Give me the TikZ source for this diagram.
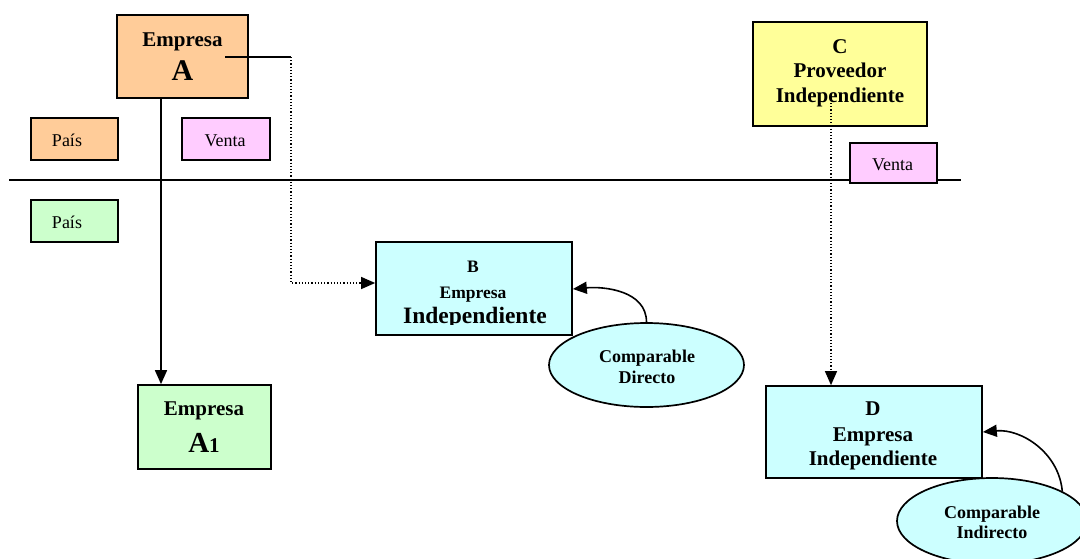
\documentclass[tikz,border=0pt]{standalone}
\usepackage{fontspec}
\setmainfont{Liberation Serif}
\usetikzlibrary{arrows.meta,shapes.geometric}
\definecolor{peach}{HTML}{FFCC99}
\definecolor{lgreen}{HTML}{CCFFCC}
\definecolor{lpink}{HTML}{FFCCFF}
\definecolor{lyellow}{HTML}{FFFF99}
\definecolor{lcyan}{HTML}{CCFFFF}
\tikzset{
  box/.style={draw=black, line width=1.7pt, inner sep=0pt, rectangle},
  oval/.style={draw=black, line width=1.7pt, ellipse, fill=lcyan, inner sep=0pt},
  big/.style={font=\fontsize{21}{24}\selectfont\bfseries, anchor=base, inner sep=0pt},
  small/.style={font=\fontsize{18}{20}\selectfont, anchor=base, inner sep=0pt},
  smallb/.style={font=\fontsize{18}{20}\selectfont\bfseries, anchor=base, inner sep=0pt},
  conn/.style={line width=1.6pt},
  dots/.style={line width=1.2pt, dash pattern=on 1.2pt off 2pt},
  tip/.style={-{Triangle[length=14pt,width=12pt]}}
}
\begin{document}
\begin{tikzpicture}[x=1pt,y=-1pt]
\clip (0,0) rectangle (1080,558);
\fill[white] (0,0) rectangle (1080,558);

% horizontal border line
\coordinate (hl) at (9,180);
\coordinate (hr) at (961,180);
\draw[conn] (hl) -- (hr);

% boxes
\node[box, fill=peach, minimum width=131pt, minimum height=83pt] (A) at (182.5,56.5) {};
\node[box, fill=peach, minimum width=87pt, minimum height=42pt] (P1) at (74.5,139) {};
\node[box, fill=lpink, minimum width=88pt, minimum height=42pt] (V1) at (226,139) {};
\node[box, fill=lgreen, minimum width=87pt, minimum height=42pt] (P2) at (74.5,221) {};
\node[box, fill=lgreen, minimum width=133pt, minimum height=84pt] (A1) at (204.5,427) {};
\node[box, fill=lcyan, minimum width=196pt, minimum height=93pt] (B) at (474,288.5) {};
\node[box, fill=lyellow, minimum width=174pt, minimum height=104pt] (C) at (840,74) {};
\node[box, fill=lpink, minimum width=87pt, minimum height=40pt] (V2) at (893.5,163) {};
\node[box, fill=lcyan, minimum width=216pt, minimum height=92pt] (D) at (874,432) {};
\node[oval, minimum width=195pt, minimum height=84pt] (E1) at (646.5,365) {};
\node[oval, minimum width=190pt, minimum height=86pt] (E2) at (992,521) {};

% texts
\node[big] (At1) at (182.5,46) {Empresa};
\node[big, font=\fontsize{30}{32}\selectfont\bfseries] (At2) at (182.5,80) {A};
\node[small] (P1t) at (67,146) {País};
\node[small] (V1t) at (225,146) {Venta};
\node[small] (P2t) at (67,228) {País};
\node[big] (A1t1) at (204,415) {Empresa};
\node[big] (A1t2) at (204,452) {{\fontsize{29}{30}\selectfont A}{\fontsize{21}{22}\selectfont 1}};
\node[big] (Ct1) at (840,53) {C};
\node[big] (Ct2) at (840,77) {Proveedor};
\node[big] (Ct3) at (840,102) {Independiente};
\node[small] (V2t) at (892.5,170) {Venta};
\node[big] (Dt1) at (873,415) {D};
\node[big] (Dt2) at (873,441) {Empresa};
\node[big] (Dt3) at (873,465) {Independiente};
\node[big, font=\fontsize{17.5}{18}\selectfont\bfseries] (Bt1) at (473,272) {B};
\node[big, font=\fontsize{17.5}{18}\selectfont\bfseries] (Bt2) at (473,298) {Empresa};
\begin{scope}
\clip (376,240) rectangle (572,324.5);
\node[big, font=\fontsize{23.5}{25}\selectfont\bfseries] (Bt3) at (475,323) {Independiente};
\end{scope}
\node[smallb] (E1t1) at (647,362) {Comparable};
\node[smallb] (E1t2) at (647,383) {Directo};
\node[smallb] (E2t1) at (992,518) {Comparable};
\node[smallb] (E2t2) at (992,538) {Indirecto};

% connectors
\coordinate (aStart) at (225,57);
\coordinate (aCorner) at (291,57);
\draw[conn] (aStart) -- (aCorner);
\draw[dots, tip] (aCorner) |- ([yshift=5.5pt]B.west);

\coordinate (vx) at (161,0);
\draw[conn, tip] (A.south -| vx) -- (A1.north -| vx);

\coordinate (cStart) at (831,103);
\draw[dots, tip] (cStart) -- (D.north -| cStart);

\draw[conn, tip] (E1.north) to[out=90, in=5] ([yshift=-0.5pt]B.east);
\draw[conn, tip] (E2.23) to[out=95, in=5] (D.east);
\end{tikzpicture}
\end{document}
